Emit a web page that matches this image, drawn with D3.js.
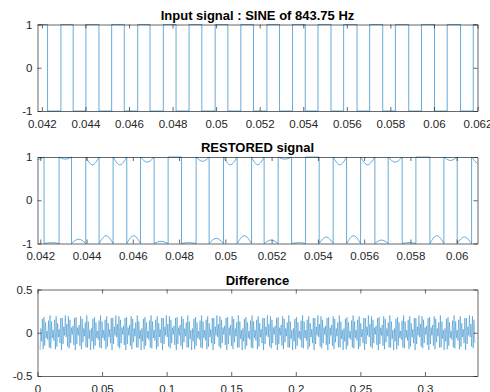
<!DOCTYPE html>
<html>
<head>
<meta charset="utf-8">
<script src="https://cdn.jsdelivr.net/npm/d3@7"></script>
<style>
  body { margin: 0; background: #fff; }
  text { font-family: "Liberation Sans", Arial, sans-serif; }
</style>
</head>
<body>
<svg id="fig" width="490" height="392"></svg>
<script>
// ---- top panel: clipped sine, edge times (first level +1)
const inputXlim = [0.0418, 0.062];
const inputTicks = [0.042, 0.044, 0.046, 0.048, 0.05, 0.052, 0.054, 0.056, 0.058, 0.06, 0.062];
const inputEdges = [0.042262, 0.042874, 0.043439, 0.044023, 0.044621, 0.045205, 0.045784, 0.046400,
  0.046966, 0.047577, 0.048161, 0.048759, 0.049343, 0.049955, 0.050539, 0.051136, 0.051716, 0.052332,
  0.052911, 0.053509, 0.054093, 0.054677, 0.055275, 0.055854, 0.056470, 0.057049, 0.057648, 0.058231,
  0.058843, 0.059427, 0.060025, 0.060609, 0.061221, 0.061805];

// ---- middle panel: restored signal, edges + how far each flat part sags toward 0
const restoredXlim = [0.04188, 0.0609];
const restoredTicks = [0.042, 0.044, 0.046, 0.048, 0.05, 0.052, 0.054, 0.056, 0.058, 0.06];
const restoredEdges = [0.042164, 0.042813, 0.043349, 0.043967, 0.044543, 0.045148, 0.045740, 0.046333,
  0.046921, 0.047526, 0.048106, 0.048737, 0.049299, 0.049922, 0.050510, 0.051132, 0.051677, 0.052283,
  0.052862, 0.053467, 0.054056, 0.054661, 0.055240, 0.055846, 0.056464, 0.057039, 0.057645, 0.058237,
  0.058842, 0.059448, 0.060023, 0.060645];
const restoredDip = [0.06, 0.02, 0.05, 0.10, 0.18, 0.18, 0.18, 0.18, 0.12, 0.05, 0.0, 0.02, 0.10, 0.12,
  0.18, 0.18, 0.18, 0.08, 0.05, 0.02, 0.0, 0.15, 0.18, 0.18, 0.18, 0.08, 0.12, 0.02, 0.0, 0.18, 0.08,
  0.15, 0.15];

// ---- bottom panel: difference, one half-cycle peak per entry (sign alternates)
const diffXlim = [0, 0.3407];
const diffTicks = [0, 0.05, 0.1, 0.15, 0.2, 0.25, 0.3];
const diffSpan = [0.002, 0.339];
const toneHz = 843.75;
const diffPeaks = [0.20, 0.05, 0.10, 0.16, 0.19, 0.18, 0.15, 0.12, 0.06, 0.02, 0.08, 0.14, 0.17, 0.20,
  0.18, 0.13, 0.06, 0.03, 0.09, 0.15, 0.19, 0.19, 0.16, 0.11, 0.05, 0.04, 0.12, 0.17, 0.20, 0.17, 0.13,
  0.07, 0.03];

const lineColor = '#0072BD';
const axisColor = '#262626';
const left = 37.5, right = 477.5, ph = 86.5;
const svg = d3.select('#fig');
svg.append('rect').attr('width', 490).attr('height', 392).attr('fill', '#fff');

const fmt = v => String(+v.toFixed(4)).replace('\u2212', '-');

function panel(id, top, xlim, xticks, ylim, yticks, title){
  const x = d3.scaleLinear().domain(xlim).range([left, right]);
  const y = d3.scaleLinear().domain(ylim).range([top + ph, top]);
  svg.append('clipPath').attr('id', id).append('rect')
    .attr('x', left).attr('y', top - 1).attr('width', right - left).attr('height', ph + 2);
  const g = svg.append('g');
  const data = g.append('g').attr('clip-path', `url(#${id})`);
  svg.append('text').attr('x', (left + right) / 2).attr('y', top - 5)
    .attr('text-anchor', 'middle').attr('font-size', 13).attr('font-weight', 'bold')
    .attr('fill', '#000').text(title);
  return {x, y, data, top, xticks, yticks};
}

function axes(p, pad){
  const {x, y, top, xticks, yticks} = p;
  const ax = svg.append('g');
  ax.append('g').attr('transform', `translate(0,${top + ph})`)
    .call(d3.axisBottom(x).tickValues(xticks).tickFormat(fmt).tickSizeInner(-4).tickSizeOuter(0).tickPadding(pad));
  ax.append('g').attr('transform', `translate(0,${top})`)
    .call(d3.axisTop(x).tickValues(xticks).tickFormat('').tickSizeInner(-4).tickSizeOuter(0));
  ax.append('g').attr('transform', `translate(${left},0)`)
    .call(d3.axisLeft(y).tickValues(yticks).tickFormat(fmt).tickSizeInner(-4).tickSizeOuter(0).tickPadding(5));
  ax.append('g').attr('transform', `translate(${right},0)`)
    .call(d3.axisRight(y).tickValues(yticks).tickFormat('').tickSizeInner(-4).tickSizeOuter(0));
  ax.selectAll('.domain, line').attr('stroke', axisColor).attr('stroke-width', 0.7);
  ax.selectAll('text').attr('fill', axisColor).attr('font-size', 11.5)
    .attr('font-family', '"Liberation Sans", Arial, sans-serif');
}

// top panel
const p1 = panel('c1', 24.5, inputXlim, inputTicks, [-1, 1], [-1, 0, 1], 'Input signal : SINE of 843.75 Hz');
{
  const pts = [[inputXlim[0], 1]];
  let lvl = 1;
  inputEdges.forEach(t => { pts.push([t, lvl]); lvl = -lvl; pts.push([t, lvl]); });
  pts.push([inputXlim[1], lvl]);
  p1.data.append('path').datum(pts)
    .attr('d', d3.line().x(d => p1.x(d[0])).y(d => p1.y(d[1])))
    .attr('fill', 'none').attr('stroke', lineColor).attr('stroke-width', 0.6);
}
axes(p1, 9);

// middle panel
const p2 = panel('c2', 157, restoredXlim, restoredTicks, [-1, 1], [-1, 0, 1], 'RESTORED signal');
{
  const e = restoredEdges;
  const bounds = [e[0] - (e[1] - e[0]), ...e, e[e.length - 1] + (e[e.length - 1] - e[e.length - 2])];
  const arc = d3.line().x(d => p2.x(d[0])).y(d => p2.y(d[1])).curve(d3.curveMonotoneX);
  restoredDip.forEach((d, i) => {
    const lvl = i % 2 === 0 ? 1 : -1;
    const s = bounds[i], f = bounds[i + 1];
    p2.data.append('path').datum([[s, lvl], [(s + f) / 2, lvl * (1 - d)], [f, lvl]])
      .attr('d', arc).attr('fill', 'none').attr('stroke', lineColor).attr('stroke-width', 0.6);
  });
  p2.data.selectAll('line.edge').data(e).join('line').attr('class', 'edge')
    .attr('x1', d => p2.x(d)).attr('x2', d => p2.x(d))
    .attr('y1', p2.y(1)).attr('y2', p2.y(-1))
    .attr('stroke', lineColor).attr('stroke-width', 0.6);
}
axes(p2, 8);

// bottom panel
const p3 = panel('c3', 289.5, diffXlim, diffTicks, [-0.5, 0.5], [-0.5, 0, 0.5], 'Difference');
{
  const half = 1 / toneHz / 2;
  const pts = [];
  for (let k = 0; diffSpan[0] + k * half <= diffSpan[1]; k++) {
    const sgn = k % 2 === 0 ? -1 : 1;
    pts.push([diffSpan[0] + k * half, sgn * diffPeaks[k % diffPeaks.length]]);
  }
  p3.data.append('path').datum(pts)
    .attr('d', d3.line().x(d => p3.x(d[0])).y(d => p3.y(d[1])))
    .attr('fill', 'none').attr('stroke', lineColor).attr('stroke-width', 0.4);
}
axes(p3, 9);
</script>
</body>
</html>
